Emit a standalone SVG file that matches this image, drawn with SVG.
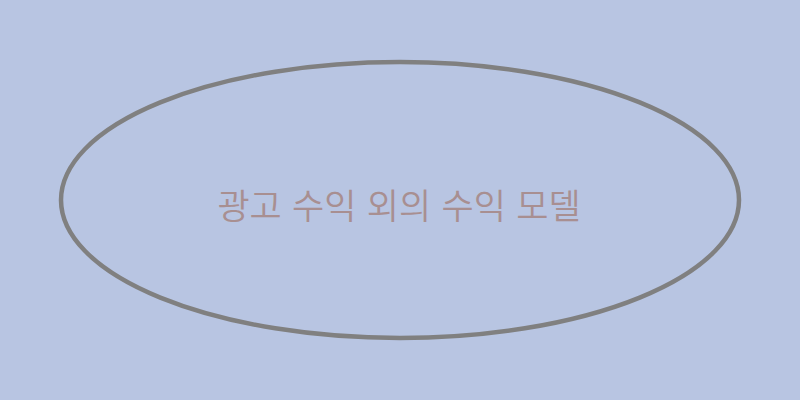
<svg xmlns="http://www.w3.org/2000/svg" width="800" height="400" viewBox="0 0 800 400">
<style>
.bg{fill:#b8c5e2}
.node ellipse{fill:none;stroke:#808080;stroke-width:4.5}
.node text{font-family:"Noto Sans CJK KR","Noto Sans",sans-serif;font-size:35px;font-weight:350;word-spacing:2.5px;fill:#a88f91;text-anchor:middle;dominant-baseline:central}
</style>
<rect class="bg" x="0" y="0" width="800" height="400"/>
<g id="connectors"></g>
<g id="node-main" class="node">
<ellipse cx="400" cy="200" rx="339" ry="138"/>
<text x="399" y="203">광고 수익 외의 수익 모델</text>
</g>
</svg>
